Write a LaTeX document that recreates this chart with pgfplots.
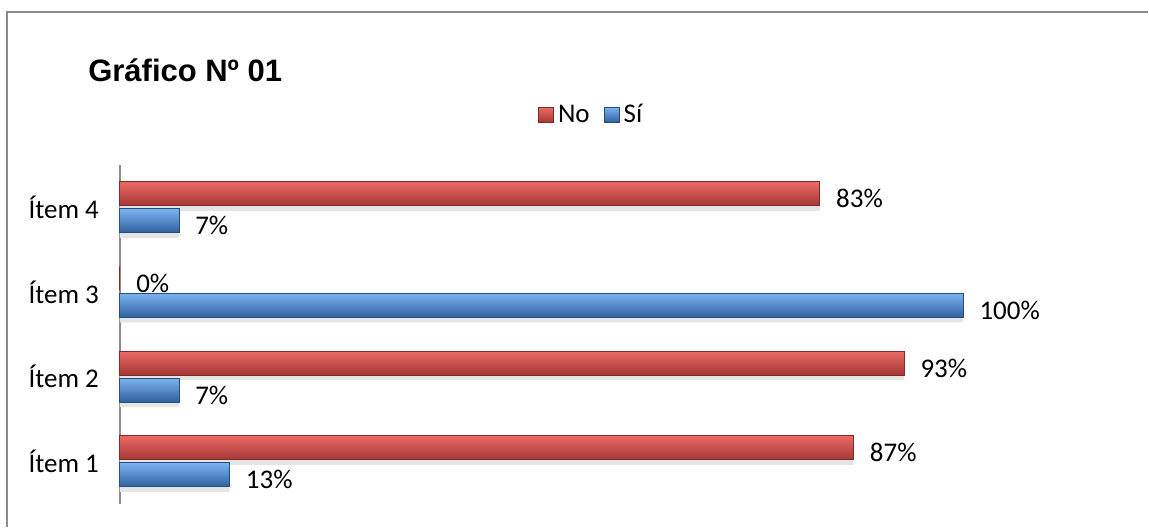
\documentclass[border=0pt]{standalone}
\usepackage{pgfplots}
\pgfplotsset{compat=1.18}
\usepackage{fontspec}
\setmainfont{Carlito}
\newfontfamily\arialfont{Liberation Sans}
\definecolor{rtop}{HTML}{EC6A66}
\definecolor{rmid}{HTML}{D24844}
\definecolor{rbot}{HTML}{A43735}
\definecolor{redge}{HTML}{7E2A28}
\definecolor{btop}{HTML}{7AB4F0}
\definecolor{bmid}{HTML}{4A86CE}
\definecolor{bbot}{HTML}{30609E}
\definecolor{bedge}{HTML}{264C7C}
\definecolor{framegray}{HTML}{8C8C8C}
\pgfplotsset{
  redfill/.style={draw=redge, line width=0.4pt, shading=axis, top color=rtop, middle color=rmid, bottom color=rbot},
  bluefill/.style={draw=bedge, line width=0.4pt, shading=axis, top color=btop, middle color=bmid, bottom color=bbot},
  labels/.style={point meta=x,
    nodes near coords={\pgfmathprintnumber{\pgfplotspointmeta}\%},
    every node near coord/.append style={anchor=west, inner sep=0pt, xshift=8pt, yshift=-2.5pt, font=\fontsize{13.5}{16}\selectfont, black}},
  redbar/.style={bar shift=6.75pt, redfill, forget plot, labels},
  bluebar/.style={bar shift=-6.75pt, bluefill, forget plot, labels},
  redshadow/.style={bar shift=4.2pt, fill=black!10, draw=none, forget plot},
  blueshadow/.style={bar shift=-9.3pt, fill=black!10, draw=none, forget plot},
}
\begin{document}
\begin{tikzpicture}[x=1pt,y=1pt]
\path (0,0) rectangle (574.5,263.5);
\draw[line width=1pt, color=framegray] (3.75,0) -- (3.75,257.25) -- (574.5,257.25);
\node[anchor=base west, inner sep=0pt, font=\arialfont\bfseries\fontsize{15.5}{18}\selectfont] at (44,222.5) {Gráfico Nº 01};
\begin{axis}[
  at={(60pt,11.5pt)}, anchor=south west,
  scale only axis, width=422pt, height=169.5pt,
  xmin=0, xmax=100, ymin=0.5, ymax=4.5,
  xbar, bar width=12pt,
  axis y line*=left, axis x line=none,
  y axis line style={-, draw=framegray, line width=1pt},
  ytick={1,2,3,4}, yticklabels={Ítem 1,Ítem 2,Ítem 3,Ítem 4},
  major tick length=0pt,
  yticklabel style={font=\fontsize{13.5}{16}\selectfont, xshift=-7pt},
  clip=false,
  /pgf/number format/assume math mode=true,
  legend style={at={(0.56,1.1475)}, anchor=center, draw=none, fill=none, legend columns=2,
    font=\fontsize{13.5}{16}\selectfont,
    /tikz/every even column/.append style={column sep=5pt}},
  legend image code/.code={\path[#1] (0pt,-3.8pt) rectangle (7.6pt,3.8pt);},
]
\addlegendimage{redfill}
\addlegendentry{No}
\addlegendimage{bluefill}
\addlegendentry{Sí}
% shadows
\addplot[redshadow] coordinates {(87,1) (93,2) (0,3) (83,4)};
\addplot[blueshadow] coordinates {(13,1) (7,2) (100,3) (7,4)};
% bars
\addplot[redbar] coordinates {(87,1)};
\addplot[bluebar] coordinates {(13,1)};
\addplot[redbar] coordinates {(93,2)};
\addplot[bluebar] coordinates {(7,2)};
\addplot[redbar] coordinates {(0,3)};
\addplot[bluebar] coordinates {(100,3)};
\addplot[redbar] coordinates {(83,4)};
\addplot[bluebar] coordinates {(7,4)};
\end{axis}
\end{tikzpicture}
\end{document}
